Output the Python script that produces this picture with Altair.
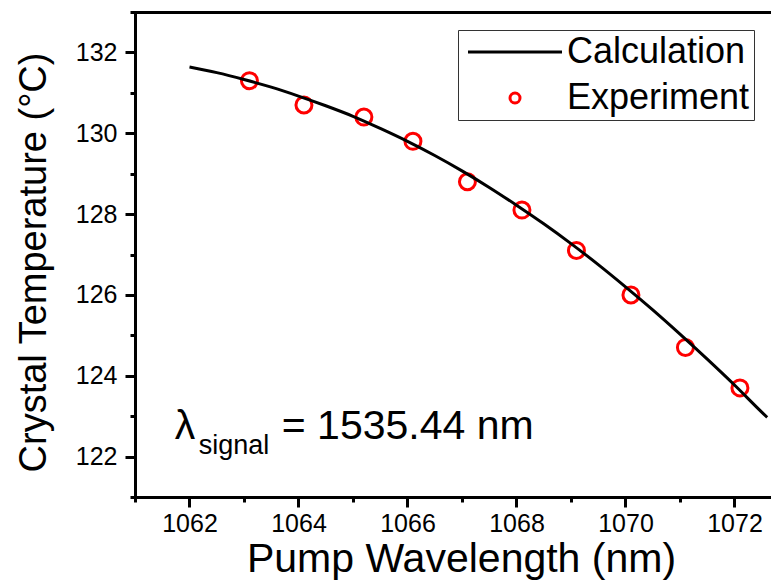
import altair as alt
import pandas as pd

FONT = "Liberation Sans"

exp_wavelength = [1063.1, 1064.1, 1065.2, 1066.1, 1067.1, 1068.1, 1069.1, 1070.1, 1071.1, 1072.1]
exp_temperature = [131.3, 130.7, 130.4, 129.8, 128.8, 128.1, 127.1, 126.0, 124.7, 123.7]

# Calculated curve
calc_wavelength = [1062.0, 1062.5, 1063.0, 1063.5, 1064.0, 1064.5, 1065.0, 1065.5, 1066.0,
                   1066.5, 1067.0, 1067.5, 1068.0, 1068.5, 1069.0, 1069.5, 1070.0, 1070.5,
                   1071.0, 1071.5, 1072.0, 1072.5, 1072.6]
calc_temperature = [131.64, 131.50, 131.33, 131.14, 130.92, 130.68, 130.42, 130.12, 129.80,
                    129.45, 129.07, 128.66, 128.22, 127.76, 127.27, 126.75, 126.20, 125.63,
                    125.03, 124.41, 123.77, 123.10, 122.97]

series_names = ["Calculation", "Experiment"]
x_ticks = list(range(1061, 1073))
y_ticks = list(range(121, 134))

exp_df = pd.DataFrame({"wavelength": exp_wavelength, "temperature": exp_temperature,
                       "series": ["Experiment"] * len(exp_wavelength)})
calc_df = pd.DataFrame({"wavelength": calc_wavelength, "temperature": calc_temperature})
anno_df = pd.DataFrame({"k": [0]})

x_scale = alt.Scale(domain=[1061, 1072.67], nice=False, zero=False)
y_scale = alt.Scale(domain=[121, 133], nice=False, zero=False)

major = "datum.value % 2 === 0"
common_axis = dict(
    grid=False, domainColor="black", domainWidth=3, domainCap="square",
    tickColor="black", tickWidth=3, format="d",
    tickSize={"condition": {"test": major, "value": 10}, "value": 5},
    labelExpr=f"{major} ? datum.label : ''",
    labelFont=FONT, labelFontSize=25, labelColor="black",
    labelOverlap=False, labelFlush=False,
    titleFont=FONT, titleColor="black", titleFontWeight="normal",
)

x_axis = alt.Axis(values=x_ticks, orient="bottom", labelPadding=24, labelBaseline="alphabetic",
                  title="Pump Wavelength (nm)", titleFontSize=41, titleX=326, titleY=74,
                  titleAlign="center", titleBaseline="alphabetic", **common_axis)
y_axis = alt.Axis(values=y_ticks, orient="left", labelPadding=8,
                  title="Crystal Temperature (°C)", titleFontSize=38, titleX=-90, titleY=250,
                  titleAlign="center", titleBaseline="alphabetic", **common_axis)
top_axis = alt.Axis(orient="top", ticks=False, labels=False, grid=False, domainColor="black",
                    domainWidth=3, domainCap="square", title="")

line_symbol = "M-9.4,0H9.4"
legend = alt.Legend(title=None, orient="none", legendX=323, legendY=18, padding=4,
                    rowPadding=10, symbolOffset=35, labelOffset=34, symbolSize=100,
                    symbolStrokeWidth=3, labelFont=FONT, labelFontSize=36, labelColor="black",
                    labelLimit=400, strokeColor="#333333", labelExpr="datum.label + '\u00a0'")

points = alt.Chart(exp_df).mark_point(filled=False, size=256, strokeWidth=3, opacity=1).encode(
    x=alt.X("wavelength:Q", scale=x_scale, axis=x_axis),
    y=alt.Y("temperature:Q", scale=y_scale, axis=y_axis),
    color=alt.Color("series:N", scale=alt.Scale(domain=series_names, range=["black", "#ff0000"]),
                    legend=legend),
    shape=alt.Shape("series:N", scale=alt.Scale(domain=series_names, range=[line_symbol, "circle"]),
                    legend=legend),
)

line = alt.Chart(calc_df).mark_line(color="black", strokeWidth=3, interpolate="monotone").encode(
    x=alt.X("wavelength:Q", scale=x_scale, axis=top_axis),
    y=alt.Y("temperature:Q", scale=y_scale, axis=y_axis),
)

ax = 1061.73
ay = 122.44
lam = alt.Chart(anno_df).mark_text(text="λ", align="left", baseline="alphabetic", font=FONT,
                                   fontSize=41, color="black").encode(
    x=alt.XDatum(ax, axis=None), y=alt.YDatum(ay, axis=y_axis))
sub = alt.Chart(anno_df).mark_text(text="signal", align="left", baseline="alphabetic", font=FONT,
                                   fontSize=27, color="black", dx=24, dy=15).encode(
    x=alt.XDatum(ax, axis=None), y=alt.YDatum(ay, axis=y_axis))
val = alt.Chart(anno_df).mark_text(text="= 1535.44 nm", align="left", baseline="alphabetic",
                                   font=FONT, fontSize=41, color="black", dx=107).encode(
    x=alt.XDatum(ax, axis=None), y=alt.YDatum(ay, axis=y_axis))

chart = alt.layer(points, line, lam, sub, val).resolve_axis(x="independent").properties(
    width=636, height=485,
    autosize=alt.AutoSizeParams(type="none"),
    padding={"left": 127, "top": 4, "right": 0, "bottom": 83},
    background="white",
).configure_view(strokeWidth=0)

chart.save("out.html", embed_options={"renderer": "svg", "actions": False})
